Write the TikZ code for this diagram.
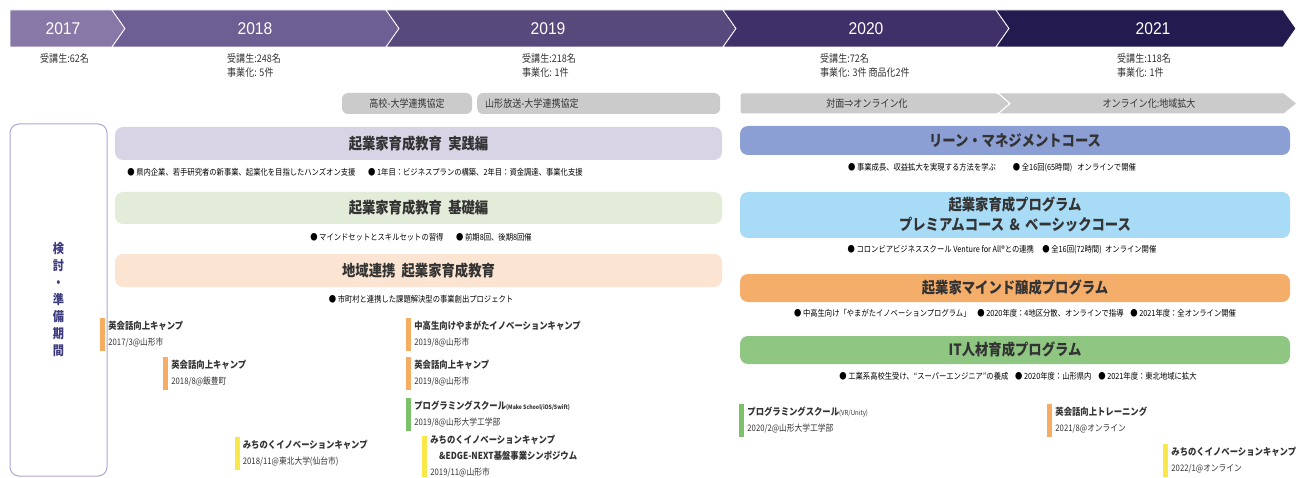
\documentclass[tikz,border=0pt]{standalone}
\usepackage{fontspec}
\setmainfont{Noto Sans CJK JP}[FakeStretch=0.86]
\newfontfamily\yearfont{Liberation Sans}[FakeStretch=0.92]
\usetikzlibrary{positioning}
\definecolor{yrA}{HTML}{8878A8}
\definecolor{yrB}{HTML}{6D5E93}
\definecolor{yrC}{HTML}{58497D}
\definecolor{yrD}{HTML}{3F3069}
\definecolor{yrE}{HTML}{231A50}
\definecolor{pillgray}{HTML}{CBCBCB}
\definecolor{lav}{HTML}{D9D3E6}
\definecolor{sage}{HTML}{E3EBD9}
\definecolor{peach}{HTML}{FBE4D1}
\definecolor{leanblue}{HTML}{8B9FD5}
\definecolor{sky}{HTML}{A7DBF6}
\definecolor{mindorange}{HTML}{F5AD6A}
\definecolor{itgreen}{HTML}{8EC682}
\definecolor{evorange}{HTML}{F6AD63}
\definecolor{evgreen}{HTML}{7CC16A}
\definecolor{evyellow}{HTML}{F8E84A}
\definecolor{prepline}{HTML}{ABA6D2}
\definecolor{prepink}{HTML}{3C3A7D}
\definecolor{ink}{HTML}{333333}
\newcommand{\evtitlefont}{\bfseries\fontsize{9.7}{16}\selectfont}
\newcommand{\evsubfont}{\mdseries\fontsize{9}{16}\selectfont}
\tikzstyle{yearlabel} = [text=white, font=\yearfont\fontsize{17}{19}\selectfont]
\tikzstyle{stat} = [anchor=north west, align=left, inner sep=0pt, text=ink, font=\fontsize{10.5}{14}\selectfont]
\tikzstyle{pill} = [fill=pillgray, rounded corners=6pt, minimum height=21pt, inner sep=0pt, text=ink, font=\fontsize{10.5}{12}\selectfont]
\tikzstyle{pilltext} = [inner sep=0pt, text=ink, font=\fontsize{10.5}{12}\selectfont]
\tikzstyle{bar} = [rounded corners=8pt, inner sep=0pt, text=ink, align=center, font=\bfseries\fontsize{15.5}{20}\selectfont]
\tikzstyle{note} = [inner sep=0pt, text=black, font=\fontsize{8.5}{10}\selectfont]
\tikzstyle{evbar} = [minimum width=5pt, inner sep=0pt]
\tikzstyle{evtext} = [align=left, inner sep=0pt, text=ink, font=\fontsize{9}{16}\selectfont]
\tikzstyle{prepbox} = [draw=prepline, line width=1pt, rounded corners=9pt, minimum width=97pt, minimum height=352pt, text=prepink, align=center, font=\bfseries\fontsize{13}{17}\selectfont]

\begin{document}
\begin{tikzpicture}[x=1pt, y=-1pt]
						\useasboundingbox (0,0) rectangle (1305,478);
						% First we draw the year band
						\foreach \xa/\xb/\nd/\col/\yr/\mid in {10/112/0/yrA/2017/63, 112/386/13/yrB/2018/255, 386/723/13/yrC/2019/548, 723/996/13/yrD/2020/866, 996/1283/13/yrE/2021/1153}
						{
							\path[fill=\col, draw=white, line width=0.8pt] (\xa,10) -- (\xb,10) -- ++(13,18.5) -- (\xb,47) -- (\xa,47) -- ++(\nd,-18.5) -- cycle;
							\node[yearlabel] (y\yr) at (\mid,28.5) {\yr};
						}
						
						% Numbers of each year
						\foreach \pos/\name/\txt in {{(40,53)/statA/{受講生:62名}}, {(227,53)/statB/{受講生:248名\\事業化: 5件}}, {(522,53)/statC/{受講生:218名\\事業化: 1件}}, {(820,53)/statD/{受講生:72名\\事業化: 3件 商品化2件}}, {(1117,53)/statE/{受講生:118名\\事業化: 1件}}}
						\node[stat] (\name) at \pos {\txt};
						
						% Agreements and the move online
						\node[pill, minimum width=130pt] (koudai) at (407,103.5) {高校-大学連携協定};
						\node[pill, text width=227pt, align=left, inner xsep=8pt, anchor=west] (housou) at (477,103.5) {山形放送-大学連携協定};
						\path[fill=pillgray, draw=white, line width=1pt, rounded corners=2pt] (740,93) -- (998,93) -- (1010,103.5) -- (998,114) -- (740,114) -- cycle;
						\path[fill=pillgray, draw=white, line width=1pt] (998,93) -- (1284,93) -- (1297,103.5) -- (1284,114) -- (998,114) -- (1010,103.5) -- cycle;
						\node[pilltext] (taimen) at (867,103.5) {対面⇒オンライン化};
						\node[pilltext] (kakudai) at (1149,103.5) {オンライン化:地域拡大};
						
						% Preparation period on the left
						\node[prepbox] (prep) at (58.5,300) {検\\討\\・\\準\\備\\期\\間};
						
						% Then the programs, the old ones left and the new ones right
						\node[bar, fill=lav, minimum width=607pt, minimum height=33pt] (jissen) at (418.5,143.5) {起業家育成教育\hspace{0.4em}実践編};
						\node[bar, fill=sage, minimum width=607pt, minimum height=32pt] (kiso) at (418.5,208) {起業家育成教育\hspace{0.4em}基礎編};
						\node[bar, fill=peach, minimum width=607pt, minimum height=33pt] (chiiki) at (418.5,270.5) {地域連携\hspace{0.4em}起業家育成教育};
						\node[bar, fill=leanblue, minimum width=550pt, minimum height=29pt] (lean) at (1015,140.5) {リーン・マネジメントコース};
						\node[bar, fill=sky, minimum width=550pt, minimum height=46pt] (ikusei) at (1015,215) {起業家育成プログラム\\プレミアムコース\hspace{0.35em}\&\hspace{0.35em}ベーシックコース};
						\node[bar, fill=mindorange, minimum width=550pt, minimum height=28pt] (mind) at (1015,288) {起業家マインド醸成プログラム};
						\node[bar, fill=itgreen, minimum width=550pt, minimum height=28pt] (itjinzai) at (1015,350) {IT人材育成プログラム};
						
						\node[note] (jissennote) at (355,172) {● 県内企業、若手研究者の新事業、起業化を目指したハンズオン支援\hspace{1.5em}● 1年目：ビジネスプランの構築、2年目：資金調達、事業化支援};
						\node[note] (kisonote) at (421,237) {● マインドセットとスキルセットの習得\hspace{1.5em}● 前期8回、後期8回催};
						\node[note] (chiikinote) at (421,299) {● 市町村と連携した課題解決型の事業創出プロジェクト};
						\node[note] (leannote) at (992,168) {● 事業成長、収益拡大を実現する方法を学ぶ\hspace{2em}● 全16回(65時間)\hspace{0.6em}オンラインで開催};
						\node[note] (ikuseinote) at (1002,250) {● コロンビアビジネススクール Venture for All®との連携\hspace{1em}● 全16回(72時間)\hspace{0.4em}オンライン開催};
						\node[note] (mindnote) at (1015,313) {● 中高生向け「やまがたイノベーションプログラム」\hspace{0.8em}● 2020年度：4地区分散、オンラインで指導\hspace{0.8em}● 2021年度：全オンライン開催};
						\node[note] (itnote) at (1018,376) {● 工業系高校生受け、“スーパーエンジニア”の養成\hspace{0.8em}● 2020年度：山形県内\hspace{0.8em}● 2021年度：東北地域に拡大};
						
						% Events, each with its colour mark
						\foreach \pos/\hgt/\col/\name/\ttl/\sub in {
							{(102.5,334.5)/33/evorange/eikaiwaA/{英会話向上キャンプ}/{2017/3@山形市}},
							{(165.5,373.5)/33/evorange/eikaiwaB/{英会話向上キャンプ}/{2018/8@飯豊町}},
							{(237,453.5)/33/evyellow/michinokuA/{みちのくイノベーションキャンプ}/{2018/11@東北大学(仙台市)}},
							{(408.5,334.5)/33/evorange/yamacamp/{中高生向けやまがたイノベーションキャンプ}/{2019/8@山形市}},
							{(408.5,373.5)/33/evorange/eikaiwaC/{英会話向上キャンプ}/{2019/8@山形市}},
							{(408.5,414)/33/evgreen/progA/{プログラミングスクール{\fontsize{6}{7}\selectfont(Make School/iOS/Swift)}}/{2019/8@山形大学工学部}},
							{(424.5,456.5)/41/evyellow/michinokuB/{みちのくイノベーションキャンプ\\\evtitlefont\hspace*{0.9em}\&EDGE-NEXT基盤事業シンポジウム}/{2019/11@山形市}},
							{(741.5,420)/33/evgreen/progB/{プログラミングスクール{\mdseries\fontsize{7}{8}\selectfont(VR/Unity)}}/{2020/2@山形大学工学部}},
							{(1049.5,420)/33/evorange/eikaiwaD/{英会話向上トレーニング}/{2021/8@オンライン}},
							{(1165.5,460)/33/evyellow/michinokuC/{みちのくイノベーションキャンプ}/{2022/1@オンライン}}}
						{
							\node[evbar, fill=\col, minimum height=\hgt] (\name) at \pos {};
							\node[evtext, right=3pt of \name] (\name-txt) {\evtitlefont\ttl\\\evsubfont\sub};
						}
					\end{tikzpicture}
\end{document}
